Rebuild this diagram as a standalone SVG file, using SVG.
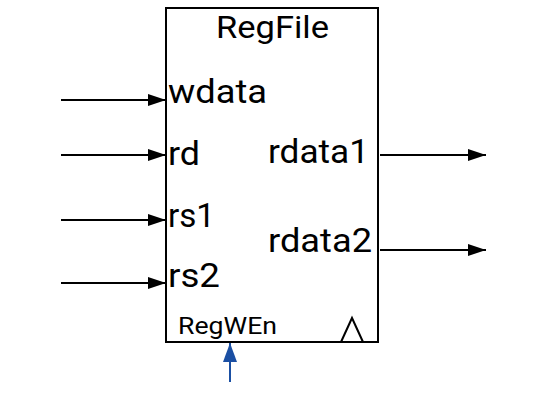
<svg xmlns="http://www.w3.org/2000/svg" width="540" height="400" viewBox="0 0 540 400">
<style>
.t{font-family:Roboto,"Liberation Sans",sans-serif;fill:#000}
.big{font-size:34px}
.w{stroke:#000;stroke-width:2;fill:none}
</style>
<defs>
<marker id="ah" markerWidth="18" markerHeight="12" refX="18" refY="6" orient="auto" markerUnits="userSpaceOnUse" viewBox="0 0 18 12">
<path d="M0,0 L18,6 L0,12 Z" fill="#000"/>
</marker>
<marker id="ahb" markerWidth="19" markerHeight="14" refX="19" refY="7" orient="auto" markerUnits="userSpaceOnUse" viewBox="0 0 19 14">
<path d="M0,0 L19,7 L0,14 Z" fill="#1a4fa3"/>
</marker>
</defs>
<rect width="540" height="400" fill="#fff"/>
<g id="regfile">
<rect x="166" y="8" width="212" height="334" fill="#fff" stroke="#000" stroke-width="2"/>
<text class="t" x="216" y="38" font-size="31" textLength="113" lengthAdjust="spacingAndGlyphs">RegFile</text>
<text class="t big" x="168" y="103" textLength="99" lengthAdjust="spacingAndGlyphs">wdata</text>
<text class="t big" x="168" y="165" textLength="32" lengthAdjust="spacingAndGlyphs">rd</text>
<text class="t big" x="168" y="227" textLength="47" lengthAdjust="spacingAndGlyphs">rs1</text>
<text class="t big" x="168" y="287" textLength="52" lengthAdjust="spacingAndGlyphs">rs2</text>
<text class="t big" x="268" y="163" textLength="101" lengthAdjust="spacingAndGlyphs">rdata1</text>
<text class="t big" x="268" y="252" textLength="104" lengthAdjust="spacingAndGlyphs">rdata2</text>
<text class="t" x="178" y="334" font-size="23" textLength="99" lengthAdjust="spacingAndGlyphs">RegWEn</text>
<path class="w" d="M341,342 L352,318 L363,342" stroke-width="1.5"/>
</g>
<g id="connectors">
<g stroke="#000" stroke-width="2" marker-end="url(#ah)">
<line x1="61" y1="100" x2="166" y2="100"/>
<line x1="61" y1="155" x2="166" y2="155"/>
<line x1="61" y1="220" x2="166" y2="220"/>
<line x1="61" y1="283" x2="166" y2="283"/>
<line x1="380" y1="155" x2="486" y2="155"/>
<line x1="380" y1="250" x2="486" y2="250"/>
</g>
<line x1="230" y1="382" x2="230" y2="343" stroke="#1a4fa3" stroke-width="2" marker-end="url(#ahb)"/>
</g>
</svg>
